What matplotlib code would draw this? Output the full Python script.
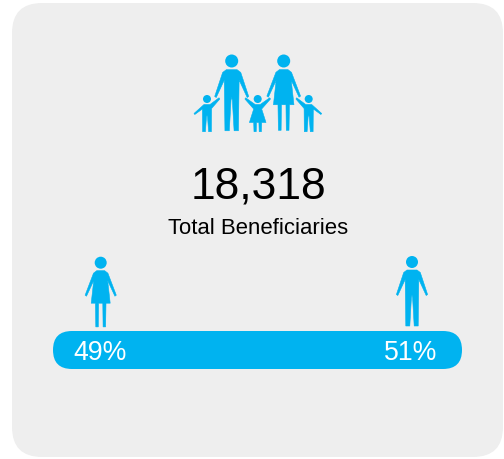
import matplotlib
matplotlib.use('Agg')
import matplotlib.pyplot as plt
from matplotlib.patches import Circle, FancyBboxPatch, Polygon

plt.rcParams['font.family'] = ['Liberation Sans', 'DejaVu Sans']

total_label = '18,318'
total_caption = 'Total Beneficiaries'
shares = [49, 51]

BLUE = '#00b3f0'
CARD = '#eeeeee'

# half outlines, head centre is 0,0
MAN = [(0, 8), (5, 8), (8.3, 10.5), (15.6, 32.5), (14.2, 33.5), (6.8, 17.5), (6.2, 64), (2.2, 64), (0.6, 36), (0, 33)]
WOMAN = [(0, 8), (4, 8), (7.2, 10.5), (15.6, 32.5), (14.2, 33.5), (7, 18), (9.5, 40.5), (5.3, 40.5), (4.9, 64.2),
         (2.4, 64.2), (2.1, 40.5), (0, 40.5)]
BOY = [(0, 5.5), (3, 5.5), (12, -1.2), (12.8, 0), (4.6, 9.5), (4.4, 32.7), (1.6, 32.7), (0.5, 17.5), (0, 16.5)]
BOY_OTHER = [(0, 5.5), (-3, 5.5), (-13, 14.5), (-12.2, 15.5), (-4.6, 10), (-4.4, 32.7), (-1.6, 32.7), (-0.5, 17.5), (0, 16.5)]
GIRL = [(0, 5.5), (2.5, 5.5), (12, -1.2), (12.8, 0), (4, 10), (8.3, 23.5), (4, 23.5), (3.7, 32.7), (1.5, 32.7),
        (1.2, 23.5), (0, 23.5)]


def mirror(half):
    return half + [(-x, y) for x, y in reversed(half)]


def person(ax, cx, cy, outline, r=6.0, s=1.0, flip=1):
    ax.add_patch(Circle((cx, cy), r, color=BLUE, lw=0))
    pts = [(cx + flip * x * s, cy + y * s) for x, y in outline]
    ax.add_patch(Polygon(pts, closed=True, fc=BLUE, ec=BLUE, lw=0.4, joinstyle='round'))


fig = plt.figure(figsize=(5.04, 4.59), dpi=100)
ax = fig.add_axes([0, 0, 1, 1])
ax.set_xlim(0, 504)
ax.set_ylim(459, 0)
ax.axis('off')

# card
ax.add_patch(FancyBboxPatch((42, 33), 431, 394, boxstyle='round,pad=30,rounding_size=30', fc=CARD, ec='none',
                            mutation_scale=1, lw=0, zorder=0))

# family
person(ax, 231.7, 61, mirror(MAN), r=6.5, s=1.09)
person(ax, 283.7, 61, mirror(WOMAN), r=6.5, s=1.08)
person(ax, 207, 99, BOY + BOY_OTHER[::-1], r=4)
person(ax, 308.7, 99, BOY + BOY_OTHER[::-1], r=4, flip=-1)
person(ax, 257.7, 99, mirror(GIRL), r=4)

ax.text(258.5, 187, total_label, fontsize=32, color='black', ha='center', va='center')
ax.text(258, 228.5, total_caption, fontsize=15.9, color='black', ha='center', va='center')

# female / male
person(ax, 100.7, 262.7, mirror(WOMAN))
person(ax, 412, 262, mirror(MAN))

# bar
bar_left, bar_right = 53, 462
ax.add_patch(FancyBboxPatch((bar_left + 19, 350), bar_right - bar_left - 38, 0, fc=BLUE, ec='none', lw=0,
                            boxstyle='round,pad=19,rounding_size=19', mutation_scale=1))
ax.text(100, 353, f'{shares[0]}%', fontsize=19.2, color='white', ha='center', va='center')
ax.text(411, 353, f'{shares[1]}%', fontsize=19.2, color='white', ha='center', va='center')

fig.savefig('out.png', dpi=100, facecolor='white')
